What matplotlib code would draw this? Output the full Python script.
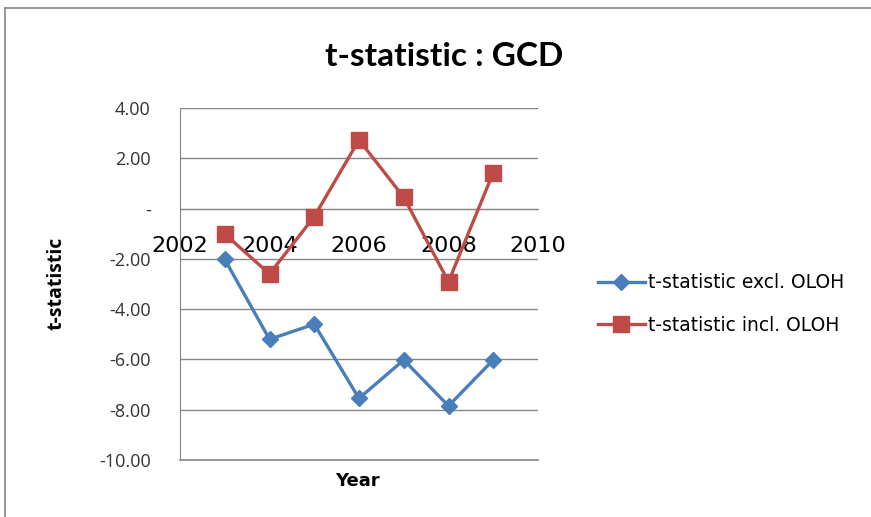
import matplotlib
matplotlib.use("Agg")
import matplotlib.pyplot as plt
from matplotlib.lines import Line2D

years = [2003, 2004, 2005, 2006, 2007, 2008, 2009]
excl_oloh = [-2.02, -5.20, -4.60, -7.55, -6.02, -7.85, -6.02]
incl_oloh = [-1.01, -2.60, -0.32, 2.73, 0.45, -2.91, 1.43]
series_names = ["t-statistic excl. OLOH", "t-statistic incl. OLOH"]
x_ticks = [2002, 2004, 2006, 2008, 2010]
y_ticks = [-10, -8, -6, -4, -2, 0, 2, 4]

W, H = 871, 517
fig = plt.figure(figsize=(W / 100, H / 100), dpi=100)
fig.patch.set_facecolor("white")

# outer chart border
fig.add_artist(Line2D([5 / W, 1], [1 - 8 / H, 1 - 8 / H], color="#868686", lw=1.2))
fig.add_artist(Line2D([5 / W, 5 / W], [0, 1 - 8 / H], color="#868686", lw=1.2))

ax = fig.add_axes([180 / W, 1 - 460 / H, (538 - 180) / W, (460 - 108) / H])
for s in ["top", "right"]:
    ax.spines[s].set_visible(False)
ax.spines["left"].set_color("#868686")
ax.spines["bottom"].set_position(("data", 0))
ax.spines["bottom"].set_color("#868686")

blue = "#4A7EBB"
red = "#BE4B48"
ax.plot(years, excl_oloh, color=blue, lw=2.4, marker="D", markersize=8.5,
        markeredgecolor=blue, label=series_names[0], zorder=3)
ax.plot(years, incl_oloh, color=red, lw=2.4, marker="s", markersize=11,
        markeredgecolor=red, label=series_names[1], zorder=3)

ax.set_xlim(2002, 2010)
ax.set_ylim(-10, 4)
ax.set_yticks(y_ticks)
ax.set_yticklabels(["-" if v == 0 else f"{v:.2f}" for v in y_ticks],
                   fontsize=13, color="#333333", family="Open Sans")
ax.set_xticks(x_ticks)
ax.set_xticklabels([str(v) for v in x_ticks], fontsize=16, color="black",
                   family="DejaVu Sans")
ax.tick_params(axis="y", length=0, pad=21)
ax.tick_params(axis="x", length=0, pad=20)
ax.yaxis.grid(True, color="#868686", lw=1)
ax.axhline(-10, color="#868686", lw=1.2, clip_on=False, zorder=1)
ax.set_axisbelow(True)

fig.text(444 / W, 1 - 57 / H, "t-statistic : GCD", ha="center", va="center",
         fontsize=24, fontweight="bold", family="Lato")
fig.text(56 / W, 1 - 283 / H, "t-statistic", ha="center", va="center",
         rotation=90, fontsize=14, fontweight="bold", family="Open Sans")
fig.text(357 / W, 1 - 481 / H, "Year", ha="center", va="center",
         fontsize=13, fontweight="bold", family="DejaVu Sans")

handles = [
    Line2D([], [], color=blue, lw=2.4, marker="D", markersize=8.5),
    Line2D([], [], color=red, lw=2.4, marker="s", markersize=11),
]
leg = fig.legend(handles, series_names, loc="center left",
                 bbox_to_anchor=(598 / W, 1 - 304 / H), frameon=False,
                 fontsize=13.5, handlelength=2.5, handletextpad=0.15,
                 labelspacing=1.25, borderpad=0, borderaxespad=0)

fig.savefig("out.png", dpi=100)
